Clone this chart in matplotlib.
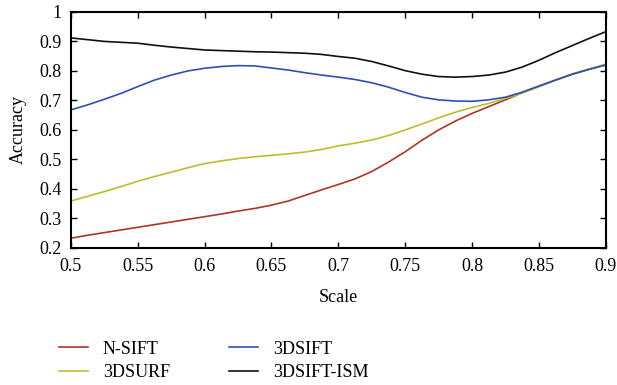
import matplotlib
matplotlib.use("Agg")
import matplotlib.pyplot as plt

scale = [0.5, 0.5125, 0.525, 0.5375, 0.55, 0.5625, 0.575, 0.5875,
         0.6, 0.6125, 0.625, 0.6375, 0.65, 0.6625, 0.675, 0.6875,
         0.7, 0.7125, 0.725, 0.7375, 0.75, 0.7625, 0.775, 0.7875,
         0.8, 0.8125, 0.825, 0.8375, 0.85, 0.8625, 0.875, 0.8875, 0.9]
n_sift = [0.233, 0.243, 0.252, 0.261, 0.270, 0.279, 0.288, 0.297,
          0.306, 0.315, 0.325, 0.334, 0.345, 0.359, 0.378, 0.397,
          0.415, 0.434, 0.459, 0.491, 0.526, 0.565, 0.600, 0.630,
          0.656, 0.679, 0.702, 0.726, 0.747, 0.769, 0.789, 0.806, 0.821]
d3_surf = [0.359, 0.375, 0.391, 0.408, 0.426, 0.442, 0.457, 0.472,
           0.486, 0.495, 0.503, 0.509, 0.514, 0.519, 0.525, 0.534,
           0.546, 0.555, 0.566, 0.581, 0.600, 0.620, 0.641, 0.660,
           0.676, 0.690, 0.707, 0.725, 0.747, 0.769, 0.790, 0.807, 0.823]
d3_sift = [0.668, 0.685, 0.704, 0.724, 0.747, 0.769, 0.786, 0.800,
           0.809, 0.815, 0.818, 0.817, 0.810, 0.803, 0.794, 0.786,
           0.779, 0.771, 0.760, 0.745, 0.727, 0.711, 0.702, 0.698,
           0.697, 0.702, 0.711, 0.728, 0.749, 0.769, 0.789, 0.805, 0.820]
d3_sift_ism = [0.912, 0.906, 0.900, 0.897, 0.894, 0.887, 0.881, 0.876,
               0.871, 0.869, 0.867, 0.865, 0.864, 0.862, 0.860, 0.856,
               0.849, 0.843, 0.832, 0.817, 0.801, 0.789, 0.781, 0.779,
               0.781, 0.786, 0.796, 0.813, 0.836, 0.862, 0.886, 0.910, 0.933]

xticks = [0.5, 0.55, 0.6, 0.65, 0.7, 0.75, 0.8, 0.85, 0.9]
xticklabels = ["0.5", "0.55", "0.6", "0.65", "0.7", "0.75", "0.8", "0.85", "0.9"]
yticks = [0.2, 0.3, 0.4, 0.5, 0.6, 0.7, 0.8, 0.9, 1.0]
yticklabels = ["0.2", "0.3", "0.4", "0.5", "0.6", "0.7", "0.8", "0.9", "1"]

plt.rcParams['font.family'] = ['Liberation Serif', 'DejaVu Serif']
plt.rcParams['font.size'] = 13

fig = plt.figure(figsize=(6.17, 3.85), dpi=100)
ax = fig.add_axes([0.115, 0.356, 0.8667, 0.613])

l1, = ax.plot(scale, n_sift, color='#B03524', lw=1.2, label='N-SIFT')
l2, = ax.plot(scale, d3_surf, color='#BDBD2E', lw=1.2, label='3DSURF')
l3, = ax.plot(scale, d3_sift, color='#2E50B4', lw=1.2, label='3DSIFT')
l4, = ax.plot(scale, d3_sift_ism, color='#111111', lw=1.2, label='3DSIFT-ISM')

ax.set_xlim(0.5, 0.9)
ax.set_ylim(0.2, 1.0)
ax.set_xticks(xticks)
ax.set_xticklabels(xticklabels)
ax.set_yticks(yticks)
ax.set_yticklabels(yticklabels)
ax.tick_params(direction='in', top=True, right=True, length=4, width=1)
ax.tick_params(axis='x', pad=7)
ax.tick_params(axis='y', pad=7)
for s in ax.spines.values():
    s.set_linewidth(1.5)
ax.set_xlabel('Scale', labelpad=10)
ax.set_ylabel('Accuracy', labelpad=9)

fig.legend(handles=[l1, l2, l3, l4], ncol=2, frameon=False,
           loc='upper left', bbox_to_anchor=(0.07, 0.157), columnspacing=3.3,
           handlelength=1.6, handletextpad=0.8, labelspacing=0.35)

fig.savefig('out.png', dpi=100)
